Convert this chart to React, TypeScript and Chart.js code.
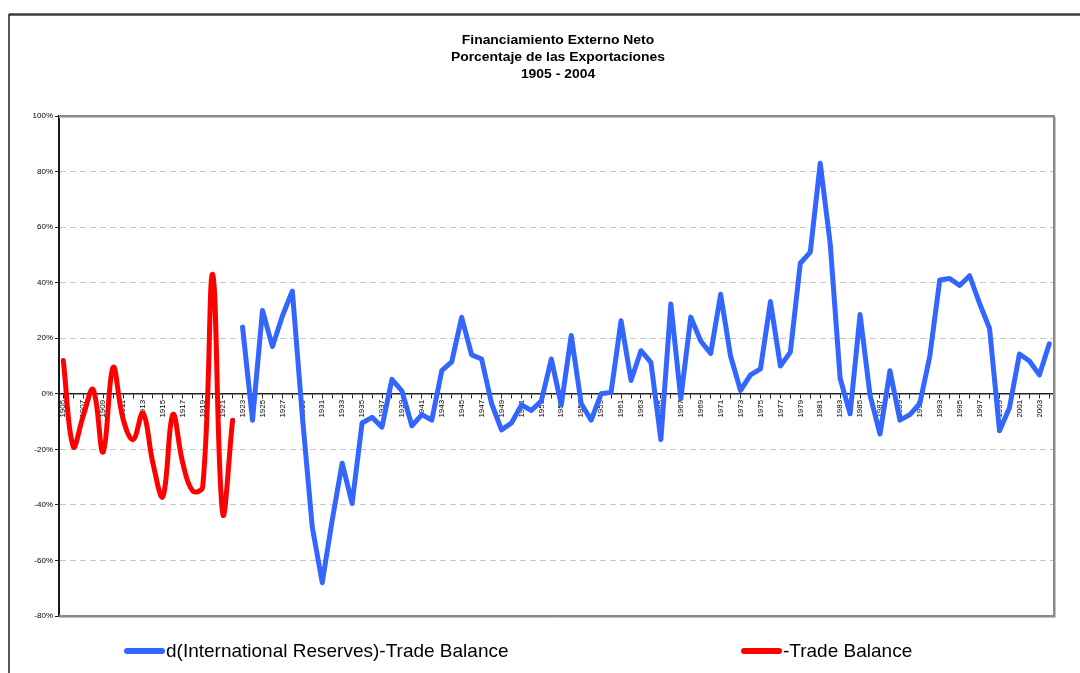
import React, { useEffect, useRef } from 'react';
import { Chart, registerables } from 'chart.js';

Chart.register(...registerables);

// ---- Data ----
const FIRST_YEAR = 1905;
const LAST_YEAR = 2004;
const BLUE_START_YEAR = 1923;

const titleLines = ['Financiamiento Externo Neto', 'Porcentaje de las Exportaciones', '1905 - 2004'];
const seriesNames = ['d(International Reserves)-Trade Balance', '-Trade Balance'];

// -Trade Balance, % of exports, 1905–1922
const tradeBalance = [
  12, -19, -8, 1.5, -21, 9.5, -9, -16.5, -7, -25,
  -37, -7.5, -25, -35, -33.5, 43, -43, -9.5,
];

// d(International Reserves)-Trade Balance, % of exports, 1923–2004
const reservesMinusTrade = [
  24, -9.5, 30, 17, 28, 37, -8, -48, -68, -45.5,
  -25, -39.5, -10.5, -8.5, -12, 5.2, 1, -11.5, -7.5, -9.5,
  8.3, 11.5, 27.5, 14, 12.5, -3.5, -13, -10.5, -4, -6,
  -2.5, 12.5, -4, 21, -3.5, -9.5, 0, 0.5, 26.3, 4.8,
  15.5, 11.3, -16.5, 32.3, -1.8, 27.6, 19, 14.5, 35.8, 13.5,
  1.2, 6.8, 9, 33.2, 10, 15, 47, 51, 83, 54,
  5.5, -7.2, 28.5, -0.5, -14.5, 8.3, -9.5, -7.5, -3.5, 13.5,
  41, 41.5, 39, 42.5, 32.5, 23.5, -13.3, -5, 14.3, 11.8,
  6.8, 18,
];

const yTicks = [-80, -60, -40, -20, 0, 20, 40, 60, 80, 100];

const BLUE = '#3366FF';
const RED = '#FF0000';
const FONT = '"Liberation Sans", Arial, sans-serif';

const years: number[] = [];
for (let y = FIRST_YEAR; y <= LAST_YEAR; y++) years.push(y);

const decorPlugin = {
  id: 'decor',
  beforeDraw(chart: any) {
    const ctx = chart.ctx as CanvasRenderingContext2D;
    ctx.save();
    ctx.fillStyle = '#ffffff';
    ctx.fillRect(0, 0, chart.width, chart.height);

    // outer frame
    ctx.strokeStyle = '#3c3c3c';
    ctx.lineWidth = 2.5;
    ctx.beginPath();
    ctx.moveTo(9, 14.5);
    ctx.lineTo(chart.width, 14.5);
    ctx.stroke();
    ctx.strokeStyle = '#222';
    ctx.lineWidth = 1.5;
    ctx.beginPath();
    ctx.moveTo(9, 14);
    ctx.lineTo(9, chart.height);
    ctx.stroke();

    // title
    ctx.fillStyle = '#000';
    ctx.font = `bold 13px ${FONT}`;
    ctx.textAlign = 'center';
    ctx.textBaseline = 'middle';
    titleLines.forEach((t, i) => {
      ctx.save();
      ctx.translate(558, 40 + i * 17);
      ctx.scale(1.07, 1);
      ctx.fillText(t, 0, 0);
      ctx.restore();
    });

    // legend
    ctx.font = `19px ${FONT}`;
    ctx.textAlign = 'left';
    ctx.lineCap = 'round';
    ctx.lineWidth = 6;
    const items = [
      { x: 127, color: BLUE, label: seriesNames[0] },
      { x: 744, color: RED, label: seriesNames[1] },
    ];
    items.forEach((it) => {
      ctx.strokeStyle = it.color;
      ctx.beginPath();
      ctx.moveTo(it.x, 651);
      ctx.lineTo(it.x + 35, 651);
      ctx.stroke();
      ctx.fillStyle = '#000';
      ctx.fillText(it.label, it.x + 39, 652);
    });
    ctx.restore();
  },
  beforeDatasetsDraw(chart: any) {
    const ctx = chart.ctx as CanvasRenderingContext2D;
    const a = chart.chartArea;
    ctx.save();
    ctx.strokeStyle = '#c4c4c4';
    ctx.lineWidth = 1;
    ctx.beginPath();
    ctx.moveTo(a.left, a.top + 1.5);
    ctx.lineTo(a.right + 1.5, a.top + 1.5);
    ctx.lineTo(a.right + 1.5, a.bottom + 1.5);
    ctx.lineTo(a.left, a.bottom + 1.5);
    ctx.stroke();
    ctx.strokeStyle = '#8a8a8a';
    ctx.lineWidth = 2;
    ctx.beginPath();
    ctx.moveTo(a.left, a.top);
    ctx.lineTo(a.right, a.top);
    ctx.lineTo(a.right, a.bottom);
    ctx.lineTo(a.left, a.bottom);
    ctx.stroke();
    ctx.restore();
  },
};

export default function App() {
  const canvasRef = useRef<HTMLCanvasElement | null>(null);

  useEffect(() => {
    const canvas = canvasRef.current;
    if (!canvas) return;
    const chart = new Chart(canvas, {
      type: 'line',
      data: {
        datasets: [
          {
            label: seriesNames[0],
            data: reservesMinusTrade.map((v, i) => ({ x: BLUE_START_YEAR + i, y: v })),
            borderColor: BLUE,
            borderWidth: 5,
            tension: 0,
            pointRadius: 0,
            borderJoinStyle: 'round',
            borderCapStyle: 'round',
            fill: false,
          },
          {
            label: seriesNames[1],
            data: tradeBalance.map((v, i) => ({ x: FIRST_YEAR + i, y: v })),
            borderColor: RED,
            borderWidth: 5,
            tension: 0.4,
            pointRadius: 0,
            borderJoinStyle: 'round',
            borderCapStyle: 'round',
            fill: false,
          },
        ],
      },
      options: {
        animation: false,
        responsive: false,
        events: [],
        layout: { padding: { top: 116, bottom: 57, left: 9, right: 26 } },
        plugins: {
          legend: { display: false },
          title: { display: false },
          tooltip: { enabled: false },
        },
        scales: {
          x: {
            type: 'linear',
            position: { y: 0 } as any,
            min: FIRST_YEAR - 0.43,
            max: LAST_YEAR + 0.47,
            afterBuildTicks: (scale: any) => {
              scale.ticks = years.map((v) => ({ value: v }));
            },
            grid: {
              drawOnChartArea: false,
              drawTicks: true,
              tickLength: 4,
              tickColor: '#222',
              tickWidth: 1,
            },
            border: { display: true, color: '#222', width: 1.5 },
            ticks: {
              autoSkip: false,
              minRotation: 90,
              maxRotation: 90,
              padding: 2,
              color: '#000',
              font: { family: FONT, size: 8 },
              callback: (value: any) => ((Number(value) - FIRST_YEAR) % 2 === 0 ? String(value) : ''),
            },
          },
          y: {
            type: 'linear',
            min: yTicks[0],
            max: yTicks[yTicks.length - 1],
            afterBuildTicks: (scale: any) => {
              scale.ticks = yTicks.map((v) => ({ value: v }));
            },
            afterFit: (scale: any) => {
              scale.width = 50;
            },
            grid: {
              color: (ctx: any) => {
                const v = ctx.tick ? ctx.tick.value : null;
                return v === 0 || v === 100 || v === -80 ? 'rgba(0,0,0,0)' : '#c4c4c4';
              },
              lineWidth: 1,
              drawTicks: true,
              tickLength: 4,
              tickColor: '#222',
            },
            border: { display: true, color: '#1a1a1a', width: 2, dash: [6, 4] },
            ticks: {
              padding: 2,
              color: '#000',
              font: { family: FONT, size: 8 },
              callback: (value: any) => `${value}%`,
            },
          },
        },
      },
      plugins: [decorPlugin],
    });
    return () => chart.destroy();
  }, []);

  return (
    <div style={{ position: 'fixed', left: 0, top: 0, width: 1080, height: 673, background: '#fff' }}>
      <canvas ref={canvasRef} width={1080} height={673} style={{ display: 'block', width: 1080, height: 673 }} />
    </div>
  );
}
